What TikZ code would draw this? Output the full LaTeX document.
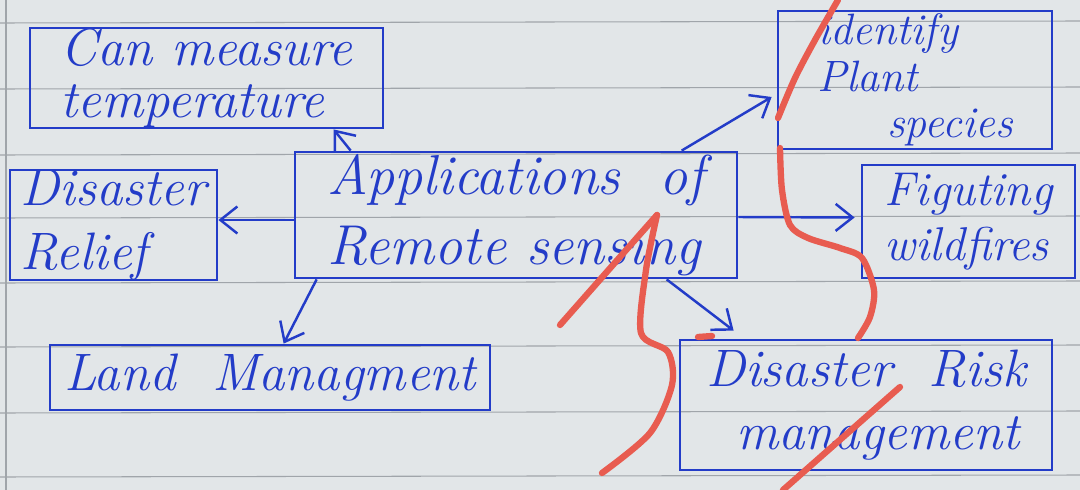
\documentclass[tikz,border=0pt]{standalone}
\usetikzlibrary{arrows.meta,calc}
\definecolor{paper}{RGB}{226,230,232}
\definecolor{rule}{RGB}{160,165,170}
\definecolor{ink}{RGB}{35,60,200}
\definecolor{marker}{RGB}{232,92,80}
\tikzset{
  box/.style={draw=ink, line width=1.6pt, inner sep=0pt, text=ink, align=left,
    font=\itshape\fontsize{27}{31}\selectfont},
  big/.style={font=\itshape\fontsize{30}{36}\selectfont},
  arr/.style={draw=ink, line width=1.4pt, -{Straight Barb[length=3.4mm,width=5.4mm,line width=1.4pt]}},
  redline/.style={draw=marker, line width=3.6pt, line cap=round, line join=round},
  paperline/.style={draw=rule, line width=0.6pt}
}
\begin{document}
\begin{tikzpicture}[x=0.02cm,y=-0.02cm]
  % paper and ruled lines
  \fill[paper] (0,0) rectangle (1080,490);
  \useasboundingbox (0,0) rectangle (1080,490);
  \foreach \yy in {23,89,155,218,283,347,413,477}
    \draw[paperline] (0,\yy) -- (1080,\yy-2);
  \draw[paperline] (6,0) -- (6,490);

  % boxes
  \node[box, big, minimum width=7.06cm, minimum height=2cm] (temp) at (206.5,78)
    {Can measure\\[-0.2em]temperature};
  \node[box, big, minimum width=4.14cm, minimum height=2.2cm] (relief) at (113.5,225)
    {Disaster\\Relief};
  \node[box, font=\itshape\fontsize{32}{40}\selectfont, minimum width=8.84cm, minimum height=2.52cm] (app) at (516,215)
    {Applications \ of\\Remote sensing};
  \node[box, big, minimum width=8.8cm, minimum height=1.3cm] (land) at (270,377.5)
    {Land \ Managment};
  \node[box, font=\itshape\fontsize{25}{26.5}\selectfont, minimum width=5.48cm, minimum height=2.76cm] (ident) at (915,80)
    {identify\\Plant\\\hspace*{1.4cm}species};
  \node[box, minimum width=4.26cm, minimum height=2.26cm] (fight) at (968.5,221.5)
    {Figuting\\wildfires};
  \node[box, big, minimum width=7.44cm, minimum height=2.6cm] (risk) at (866,405)
    {Disaster \ Risk\\\hspace*{0.6cm}management};

  % connectors
  \draw[arr] ($(app.north west)+(57,0)$) -- ($(temp.south west)+(305,0)$);
  \draw[arr] ($(app.west)+(0,5)$) -- ($(relief.east)+(0,-5)$);
  \draw[arr] ($(app.north west)+(388,0)$) -- ($(ident.west)+(-5,17)$);
  \draw[arr] ($(app.east)+(0,2)$) -- ($(fight.west)+(-6,-4)$);
  \draw[arr] ($(app.south west)+(23,0)$) -- ($(land.north west)+(235,0)$);
  \draw[arr] ($(app.south west)+(373,0)$) -- ($(risk.north west)+(55,-8)$);

  % red marker strokes
  \draw[redline] plot[smooth] coordinates {(838,0) (815,40) (795,78) (778,118)};
  \draw[redline] plot[smooth] coordinates {(780,148) (782,190) (790,225) (808,238) (840,248) (862,258) (874,290) (870,317) (858,338)};
  \draw[redline] (560,325) -- (657,215);
  \draw[redline] plot[smooth] coordinates {(657,215) (646,270) (641,333) (668,352) (672,385) (650,433) (602,473)};
  \draw[redline] (900,387) -- (783,490);
  \draw[redline] (698,337) -- (712,336);
\end{tikzpicture}
\end{document}
